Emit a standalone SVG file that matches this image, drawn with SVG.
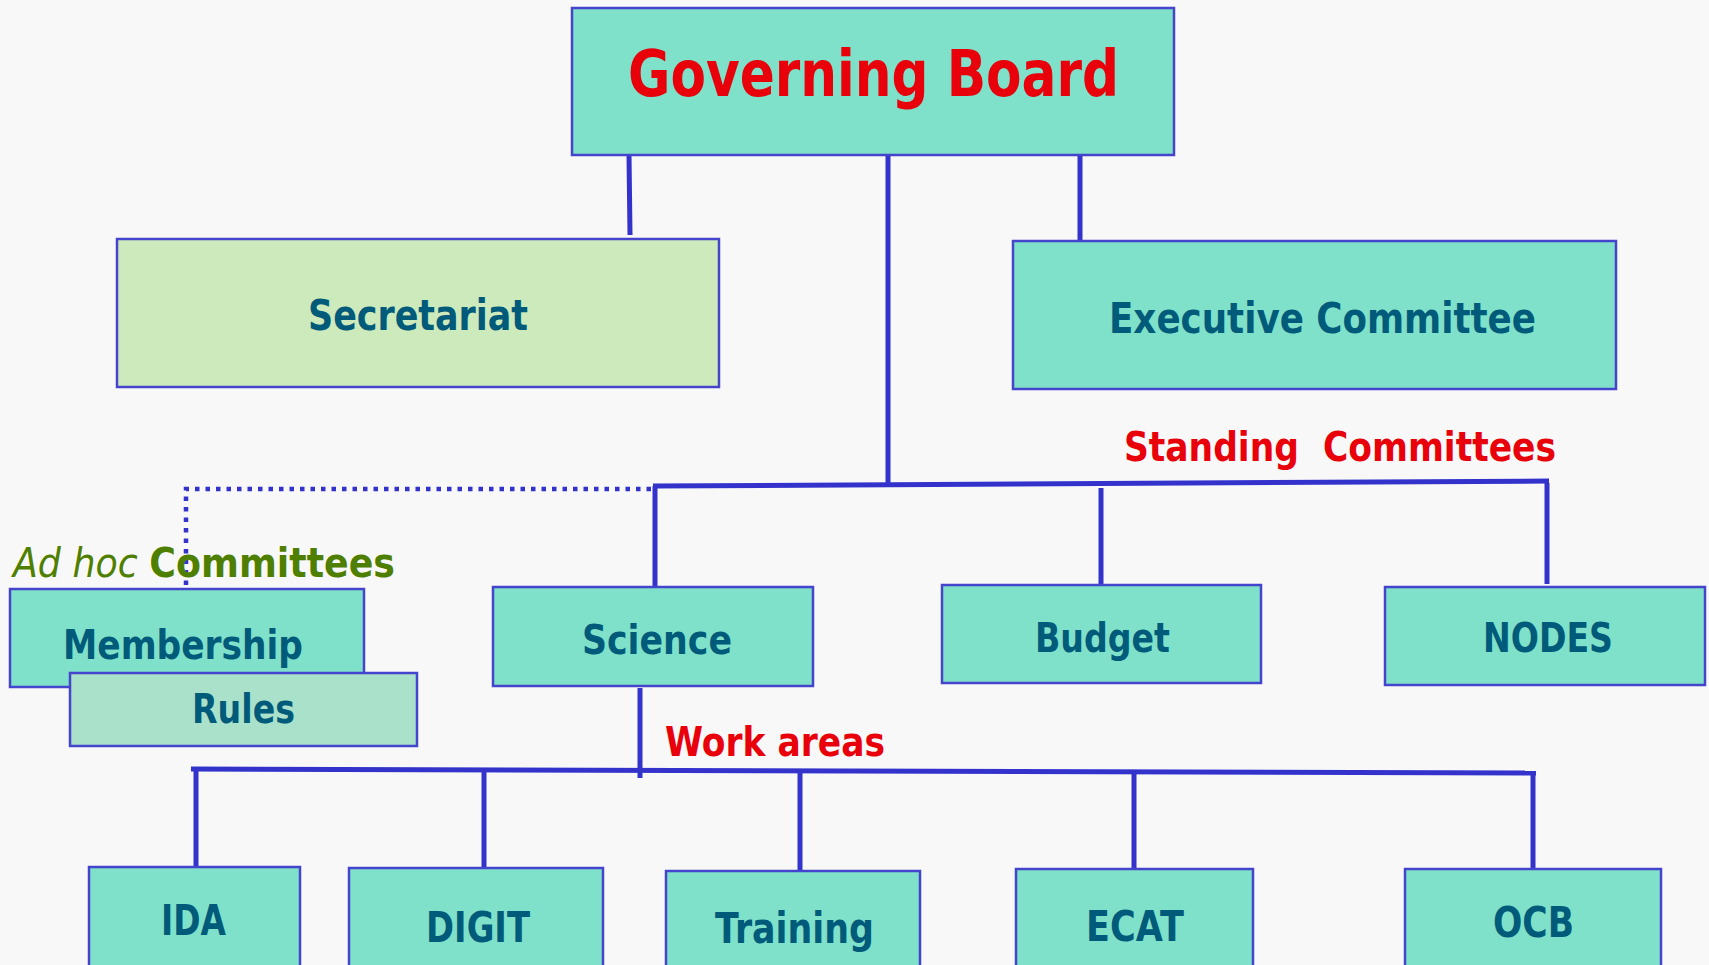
<svg xmlns="http://www.w3.org/2000/svg" width="1709" height="965" viewBox="0 0 1709 965">
<defs>
<style>
.box{fill:#7FE1C9;stroke:#4444CC;stroke-width:2.5}
.sec{fill:#CCEABB;stroke:#4444CC;stroke-width:2.5}
.rul{fill:#A9E1CA;stroke:#4444CC;stroke-width:2.5}
.lbl{font-family:"DejaVu Sans","Liberation Sans",sans-serif;font-weight:bold;fill:#005A7A}
.red{font-family:"DejaVu Sans","Liberation Sans",sans-serif;font-weight:bold;fill:#E8000B}
.grn{font-family:"DejaVu Sans","Liberation Sans",sans-serif;fill:#4F7F00}
.con{stroke:#3333CC;stroke-width:5;fill:none}
.dot{stroke:#3333CC;stroke-width:4.5;fill:none;stroke-dasharray:4.5 6}
</style>
</defs>
<rect x="0" y="0" width="1709" height="965" fill="#F8F8F8"/>
<g id="connectors">
<line class="con" x1="629" y1="155" x2="630" y2="235"/>
<line class="con" x1="1080" y1="155" x2="1080" y2="241"/>
<line class="con" x1="888" y1="155" x2="888" y2="486"/>
<line class="con" x1="653" y1="486" x2="1549" y2="481"/>
<line class="con" x1="655" y1="486" x2="655" y2="587"/>
<line class="con" x1="1101" y1="488" x2="1101" y2="586"/>
<line class="con" x1="1547" y1="483" x2="1547" y2="584"/>
<polyline class="dot" points="651,489 186,489 186,588"/>
<line class="con" x1="640" y1="688" x2="640" y2="778"/>
<line class="con" x1="191" y1="769" x2="1536" y2="773"/>
<line class="con" x1="196" y1="769" x2="196" y2="867"/>
<line class="con" x1="484" y1="770" x2="484" y2="868"/>
<line class="con" x1="800" y1="771" x2="800" y2="871"/>
<line class="con" x1="1134" y1="772" x2="1134" y2="869"/>
<line class="con" x1="1533" y1="772" x2="1533" y2="869"/>
</g>
<g id="governing-board">
<rect class="box" x="572" y="8" width="602" height="147"/>
<text class="red" x="628" y="96" font-size="64" textLength="491" lengthAdjust="spacingAndGlyphs">Governing Board</text>
</g>
<g id="secretariat">
<rect class="sec" x="117" y="239" width="602" height="148"/>
<text class="lbl" x="308" y="330" font-size="42" textLength="220" lengthAdjust="spacingAndGlyphs">Secretariat</text>
</g>
<g id="executive-committee">
<rect class="box" x="1013" y="241" width="603" height="148"/>
<text class="lbl" x="1109" y="333" font-size="42" textLength="427" lengthAdjust="spacingAndGlyphs">Executive Committee</text>
</g>
<g id="standing-label">
<text class="red" x="1124" y="461" font-size="41" textLength="432" lengthAdjust="spacingAndGlyphs" xml:space="preserve">Standing  Committees</text>
</g>
<g id="adhoc-label">
<text class="grn" x="13" y="577" font-size="41" textLength="382" lengthAdjust="spacingAndGlyphs"><tspan font-style="italic">Ad hoc</tspan> <tspan font-weight="bold">Committees</tspan></text>
</g>
<g id="membership">
<rect class="box" x="10" y="589" width="354" height="98"/>
<text class="lbl" x="63" y="659" font-size="41" textLength="240" lengthAdjust="spacingAndGlyphs">Membership</text>
</g>
<g id="rules">
<rect class="rul" x="70" y="673" width="347" height="73"/>
<text class="lbl" x="192" y="723" font-size="41" textLength="103" lengthAdjust="spacingAndGlyphs">Rules</text>
</g>
<g id="science">
<rect class="box" x="493" y="587" width="320" height="99"/>
<text class="lbl" x="582" y="654" font-size="41" textLength="150" lengthAdjust="spacingAndGlyphs">Science</text>
</g>
<g id="budget">
<rect class="box" x="942" y="585" width="319" height="98"/>
<text class="lbl" x="1035" y="652" font-size="41" textLength="135" lengthAdjust="spacingAndGlyphs">Budget</text>
</g>
<g id="nodes">
<rect class="box" x="1385" y="587" width="320" height="98"/>
<text class="lbl" x="1483" y="652" font-size="41" textLength="130" lengthAdjust="spacingAndGlyphs">NODES</text>
</g>
<g id="work-areas-label">
<text class="red" x="665" y="756" font-size="40" textLength="220" lengthAdjust="spacingAndGlyphs">Work areas</text>
</g>
<g id="ida">
<rect class="box" x="89" y="867" width="211" height="120"/>
<text class="lbl" x="161" y="935" font-size="42" textLength="65" lengthAdjust="spacingAndGlyphs">IDA</text>
</g>
<g id="digit">
<rect class="box" x="349" y="868" width="254" height="120"/>
<text class="lbl" x="426" y="942" font-size="42" textLength="104" lengthAdjust="spacingAndGlyphs">DIGIT</text>
</g>
<g id="training">
<rect class="box" x="666" y="871" width="254" height="120"/>
<text class="lbl" x="715" y="943" font-size="42" textLength="159" lengthAdjust="spacingAndGlyphs">Training</text>
</g>
<g id="ecat">
<rect class="box" x="1016" y="869" width="237" height="120"/>
<text class="lbl" x="1086" y="941" font-size="42" textLength="98" lengthAdjust="spacingAndGlyphs">ECAT</text>
</g>
<g id="ocb">
<rect class="box" x="1405" y="869" width="256" height="120"/>
<text class="lbl" x="1493" y="937" font-size="42" textLength="81" lengthAdjust="spacingAndGlyphs">OCB</text>
</g>
</svg>
